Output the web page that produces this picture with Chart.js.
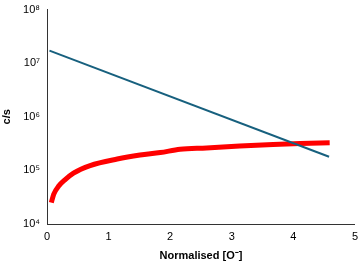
<!DOCTYPE html>
<html>
<head>
<meta charset="utf-8">
<script src="https://cdn.jsdelivr.net/npm/chart.js@4"></script>
<style>
  html, body { margin: 0; padding: 0; background: #fff; }
  #wrap { width: 360px; height: 267px; }
</style>
</head>
<body>
<div id="wrap"><canvas id="chart" width="360" height="267"></canvas></div>
<script>
// Red measured curve (normalised [O-] vs c/s)
const redX = [0.07, 0.11, 0.19, 0.30, 0.43, 0.70, 1.14, 1.51, 1.84, 2.16, 2.59, 3.13, 3.67, 4.11, 4.59];
const redY = [2.5e4, 3.6e4, 5.1e4, 6.8e4, 8.9e4, 1.23e5, 1.63e5, 1.93e5, 2.15e5, 2.48e5, 2.62e5, 2.85e5, 3.05e5, 3.18e5, 3.27e5];
// Blue straight (exponential) line
const blueX = [0.04, 4.58];
const blueY = [1.72e7, 1.8e5];
// Axis ticks
const xTicks = [0, 1, 2, 3, 4, 5];
const yTicks = [1e4, 1e5, 1e6, 1e7, 1e8];

const sup = { 4: '⁴', 5: '⁵', 6: '⁶', 7: '⁷', 8: '⁸' };

new Chart(document.getElementById('chart').getContext('2d'), {
  type: 'line',
  data: {
    datasets: [
      {
        data: blueX.map((x, i) => ({ x: x, y: blueY[i] })),
        borderColor: '#17607e',
        borderWidth: 2,
        pointRadius: 0,
        tension: 0
      },
      {
        data: redX.map((x, i) => ({ x: x, y: redY[i] })),
        borderColor: '#ff0000',
        borderWidth: 5,
        pointRadius: 0,
        tension: 0.3,
        cubicInterpolationMode: 'monotone'
      }
    ]
  },
  options: {
    responsive: false,
    animation: false,
    layout: { padding: { top: 4, right: 5, left: 0, bottom: 0 } },
    plugins: { legend: { display: false }, tooltip: { enabled: false } },
    scales: {
      x: {
        type: 'linear',
        min: 0, max: 5,
        afterBuildTicks: s => { s.ticks = xTicks.map(v => ({ value: v })); },
        afterFit: s => { s.height = 43; },
        grid: { display: false, drawTicks: true, tickLength: 4, tickColor: '#333' },
        border: { color: '#333', width: 1 },
        ticks: { color: '#000', font: { family: 'Liberation Sans', size: 11 }, padding: 2, maxRotation: 0 },
        title: { display: true, text: 'Normalised [O⁻]', color: '#000',
                 font: { family: 'Liberation Sans', size: 11, weight: 'bold' }, padding: { top: 8 } }
      },
      y: {
        type: 'logarithmic',
        min: 1e4, max: 1e8,
        afterBuildTicks: s => { s.ticks = yTicks.map(v => ({ value: v })); },
        afterFit: s => { s.width = 47; },
        grid: { display: false, drawTicks: true, tickLength: 4, tickColor: '#333' },
        border: { color: '#333', width: 1 },
        ticks: {
          color: '#000', font: { family: 'Liberation Sans', size: 11 }, padding: 3,
          callback: v => '10' + sup[Math.round(Math.log10(v))]
        },
        title: { display: true, text: 'c/s', color: '#000',
                 font: { family: 'Liberation Sans', size: 11, weight: 'bold' }, padding: 0 }
      }
    }
  }
});
</script>
</body>
</html>
